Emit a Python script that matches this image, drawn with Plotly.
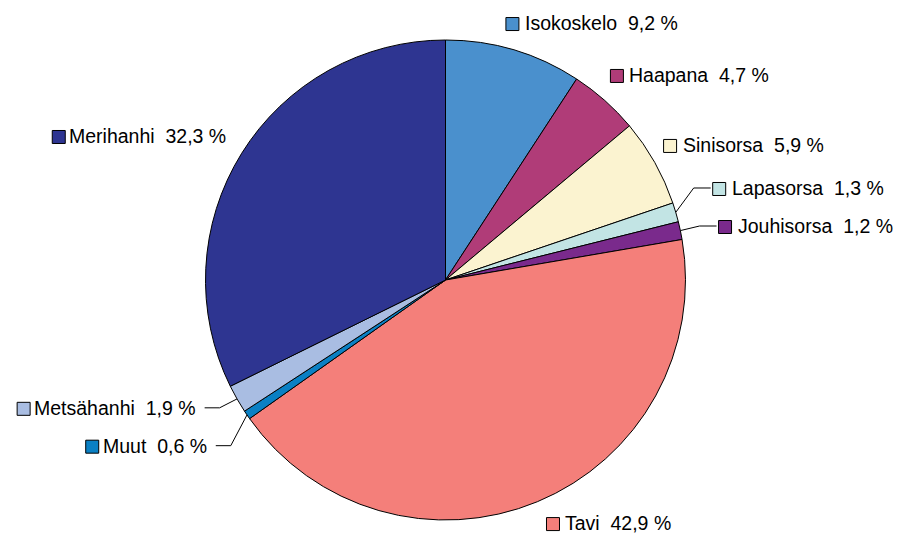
import math
import plotly.graph_objects as go

# ---- data ----
labels = ["Isokoskelo", "Haapana", "Sinisorsa", "Lapasorsa", "Jouhisorsa",
          "Tavi", "Muut", "Metsähanhi", "Merihanhi"]
shares = [9.2, 4.7, 5.9, 1.3, 1.2, 42.9, 0.6, 1.9, 32.3]
colors = ["#4A90CD", "#B03C78", "#FBF3D0", "#C2E4E4", "#7A2A8C",
          "#F47F7A", "#0A80C4", "#A9BDE2", "#2E3591"]

# ---- layout / style ----
PAGE_OFF = 8            # default body margin of the html page
W, H = 901 - PAGE_OFF, 536 - PAGE_OFF
CX, CY, R = 445.5 - PAGE_OFF, 280.0 - PAGE_OFF, 240.0
LABEL_R = 1.117
FS = 19.5
SQ = 13
GAP = 4
# per-label nudges (px) from the radial label point
nudge = [(-16, 0), (-13, -4.5), (-15.6, -3.7), (10, -16.4), (10.7, 1.2),
         (-1.6, -4.6), (-15, 15), (-15, -5), (10.6, -2.5)]
leader = [False, False, False, True, True, False, True, True, False]

# Arial / Liberation Sans advance widths (1/1000 em)
AW = {' ': 278, '%': 889, ',': 278, 'A': 667, 'H': 722, 'I': 278, 'J': 500,
      'L': 556, 'M': 833, 'S': 667, 'T': 611, 'a': 556, 'ä': 556, 'e': 556,
      'h': 556, 'i': 222, 'k': 500, 'l': 222, 'n': 556, 'o': 556, 'p': 556,
      'r': 333, 's': 500, 't': 278, 'u': 556, 'v': 500}
for d in "0123456789":
    AW[d] = 556


def tw(s):
    return sum(AW.get(c, 556) for c in s) * FS / 1000.0


def px(x):
    return x / W


def py(y):
    return 1 - y / H


fig = go.Figure(go.Pie(
    labels=labels, values=shares, sort=False, direction="clockwise",
    rotation=0, marker=dict(colors=colors, line=dict(color="#000000", width=1)),
    textinfo="none", hoverinfo="label+percent", showlegend=False,
    domain=dict(x=[px(CX - R), px(CX + R)], y=[py(CY + R), py(CY - R)]),
))

total = sum(shares)
annotations = []
shapes = []
cum = 0.0
for name, v, col, (dx, dy), ld in zip(labels, shares, colors, nudge, leader):
    mid = (cum + v / 2) / total * 2 * math.pi
    cum += v
    sx, sy = math.sin(mid), -math.cos(mid)
    ax = CX + LABEL_R * R * sx + dx
    ay = CY + LABEL_R * R * sy + dy
    text = f"{name}  {str(v).replace('.', ',')} %"
    w = tw(text)
    right_side = sx >= 0
    if right_side:
        sq_left = ax
        tx = sq_left + SQ + GAP
        annotations.append(dict(x=px(tx), y=py(ay), xref="paper", yref="paper",
                                text=text, showarrow=False, xanchor="left",
                                yanchor="middle",
                                font=dict(family="Liberation Sans, Arial", size=FS, color="#000")))
        line_end = sq_left - 2
        elbow = line_end - 17
    else:
        text_right = ax
        sq_left = text_right - w - 2 - SQ - GAP
        annotations.append(dict(x=px(text_right), y=py(ay), xref="paper", yref="paper",
                                text=text, showarrow=False, xanchor="right",
                                yanchor="middle",
                                font=dict(family="Liberation Sans, Arial", size=FS, color="#000")))
        line_end = text_right + 7
        elbow = line_end + 15
    shapes.append(dict(type="rect", xref="paper", yref="paper",
                       x0=px(sq_left), x1=px(sq_left + SQ),
                       y0=py(ay - SQ / 2 + 1), y1=py(ay + SQ / 2 + 1),
                       fillcolor=col, line=dict(color="#000", width=1)))
    if ld:
        x0, y0 = CX + R * sx, CY + R * sy
        path = (f"M {px(x0)} {py(y0)} L {px(elbow)} {py(ay)} "
                f"L {px(line_end)} {py(ay)}")
        shapes.append(dict(type="path", xref="paper", yref="paper", path=path,
                           line=dict(color="#000", width=1)))

fig.update_layout(width=W, height=H, margin=dict(l=0, r=0, t=0, b=0),
                  paper_bgcolor="white", plot_bgcolor="white",
                  annotations=annotations, shapes=shapes)
fig.write_html("out.html")
